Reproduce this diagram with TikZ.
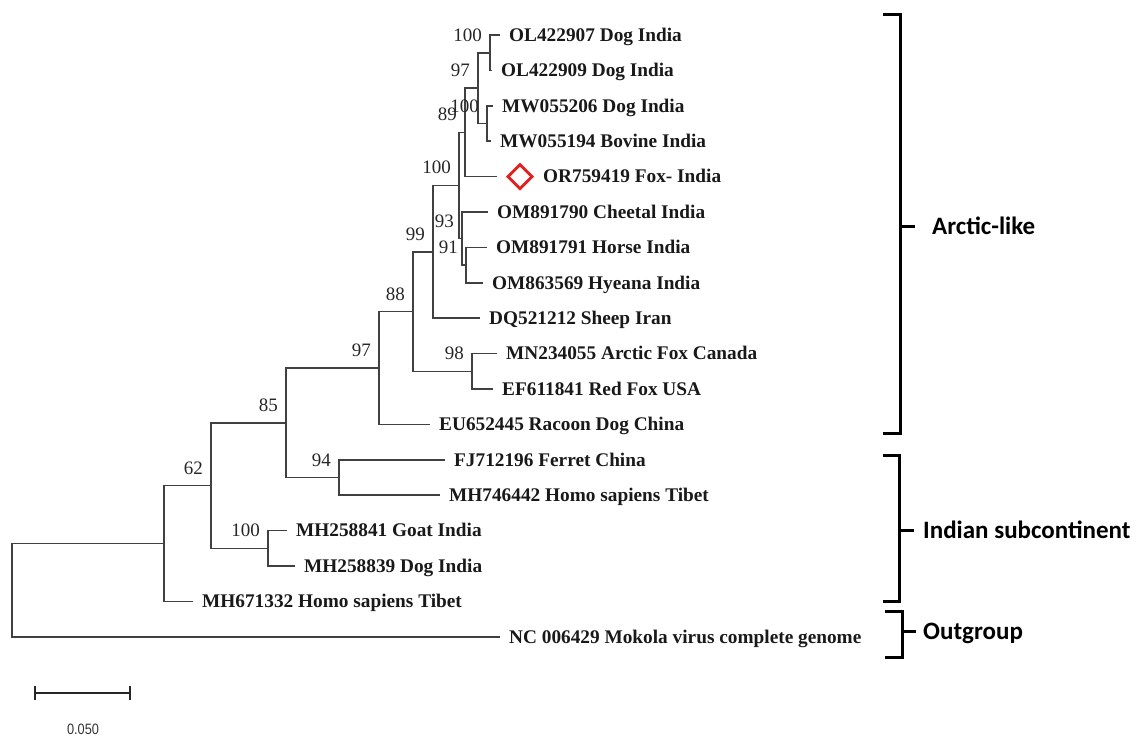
\documentclass[tikz,border=0pt]{standalone}
\usepackage{fontspec}
\setmainfont{Liberation Serif}
\newfontfamily\calib{Carlito}
\newfontfamily\arialf{Liberation Sans}
\usetikzlibrary{shapes.geometric}
\begin{document}
\begin{tikzpicture}[x=1pt,y=-1pt,
  br/.style={line width=1.6pt, draw=black!75, line cap=square},
  taxon/.style={anchor=base west, inner sep=0pt, font=\bfseries\fontsize{19.3}{19.3}\selectfont, text=black!90, xshift=9pt, yshift=-6.3pt},
  bs/.style={anchor=base east, inner sep=0pt, font=\fontsize{19}{19}\selectfont, text=black!85, xshift=-8pt, yshift=11.5pt},
  brk/.style={line width=3pt, draw=black, line join=miter},
  grp/.style={anchor=base west, inner sep=0pt, font=\calib\bfseries\fontsize{25}{25}\selectfont, yshift=-8pt}]
\useasboundingbox (0,0) rectangle (1138,740);
% internal nodes
\coordinate (nA) at (490,52.7);
\coordinate (nB) at (478,88.0);
\coordinate (nC) at (487,123.5);
\coordinate (nD) at (465,132.3);
\coordinate (nF) at (466,265.1);
\coordinate (nE) at (462,238.6);
\coordinate (nG) at (459,185.4);
\coordinate (nH) at (433,251.8);
\coordinate (nI) at (472,371.3);
\coordinate (nJ) at (413,311.6);
\coordinate (nK) at (379,368.0);
\coordinate (nL) at (339,477.5);
\coordinate (nM) at (286,422.7);
\coordinate (nN) at (268,548.3);
\coordinate (nO) at (211,485.5);
\coordinate (nP) at (164,543.5);
\coordinate (nR) at (12,590.1);
% leaf branch ends
\coordinate (l1) at (500,35.0);
\coordinate (l2) at (492,70.4);
\coordinate (l3) at (493,105.8);
\coordinate (l4) at (491,141.2);
\coordinate (l5) at (497,176.6);
\coordinate (l6) at (488,212.0);
\coordinate (l7) at (487,247.4);
\coordinate (l8) at (483,282.8);
\coordinate (l9) at (480,318.2);
\coordinate (l10) at (497,353.6);
\coordinate (l11) at (493,389.0);
\coordinate (l12) at (430,424.4);
\coordinate (l13) at (445,459.8);
\coordinate (l14) at (440,495.2);
\coordinate (l15) at (287,530.6);
\coordinate (l16) at (295,566.0);
\coordinate (l17) at (193,601.4);
\coordinate (l18) at (500,636.8);
% branches
\draw[br] (nA) |- (l1); \draw[br] (nA) |- (l2);
\draw[br] (nC) |- (l3); \draw[br] (nC) |- (l4);
\draw[br] (nB) |- (nA); \draw[br] (nB) |- (nC);
\draw[br] (nD) |- (nB); \draw[br] (nD) |- (l5);
\draw[br] (nF) |- (l7); \draw[br] (nF) |- (l8);
\draw[br] (nE) |- (l6); \draw[br] (nE) |- (nF);
\draw[br] (nG) |- (nD); \draw[br] (nG) |- (nE);
\draw[br] (nH) |- (nG); \draw[br] (nH) |- (l9);
\draw[br] (nI) |- (l10); \draw[br] (nI) |- (l11);
\draw[br] (nJ) |- (nH); \draw[br] (nJ) |- (nI);
\draw[br] (nK) |- (nJ); \draw[br] (nK) |- (l12);
\draw[br] (nL) |- (l13); \draw[br] (nL) |- (l14);
\draw[br] (nM) |- (nK); \draw[br] (nM) |- (nL);
\draw[br] (nN) |- (l15); \draw[br] (nN) |- (l16);
\draw[br] (nO) |- (nM); \draw[br] (nO) |- (nN);
\draw[br] (nP) |- (nO); \draw[br] (nP) |- (l17);
\draw[br] (nR) |- (nP); \draw[br] (nR) |- (l18);
% taxa
\node[taxon] (t1) at (l1) {OL422907 Dog India};
\node[taxon] (t2) at (l2) {OL422909 Dog India};
\node[taxon] (t3) at (l3) {MW055206 Dog India};
\node[taxon] (t4) at (l4) {MW055194 Bovine India};
\node[diamond, draw={rgb,255:red,226;green,30;blue,30}, line width=2.8pt, minimum size=25pt, inner sep=0pt] (fox) at (520,176.6) {};
\node[taxon, xshift=37pt] (t5) at (l5) {OR759419 Fox- India};
\node[taxon] (t6) at (l6) {OM891790 Cheetal India};
\node[taxon] (t7) at (l7) {OM891791 Horse India};
\node[taxon] (t8) at (l8) {OM863569 Hyeana India};
\node[taxon] (t9) at (l9) {DQ521212 Sheep Iran};
\node[taxon] (t10) at (l10) {MN234055 Arctic Fox Canada};
\node[taxon] (t11) at (l11) {EF611841 Red Fox USA};
\node[taxon] (t12) at (l12) {EU652445 Racoon Dog China};
\node[taxon] (t13) at (l13) {FJ712196 Ferret China};
\node[taxon] (t14) at (l14) {MH746442 Homo sapiens Tibet};
\node[taxon] (t15) at (l15) {MH258841 Goat India};
\node[taxon] (t16) at (l16) {MH258839 Dog India};
\node[taxon] (t17) at (l17) {MH671332 Homo sapiens Tibet};
\node[taxon] (t18) at (l18) {NC 006429 Mokola virus complete genome};
% bootstrap values
\node[bs] (bA) at (nA) {100};
\node[bs] (bB) at (nB) {97};
\node[bs] (bD) at (nD) {89};
\node[bs] (bC) at (nC) {100};
\node[bs] (bG) at (nG) {100};
\node[bs] (bE) at (nE) {93};
\node[bs] (bF) at (nF) {91};
\node[bs] (bH) at (nH) {99};
\node[bs] (bJ) at (nJ) {88};
\node[bs] (bI) at (nI) {98};
\node[bs] (bK) at (nK) {97};
\node[bs] (bM) at (nM) {85};
\node[bs] (bL) at (nL) {94};
\node[bs] (bO) at (nO) {62};
\node[bs] (bN) at (nN) {100};
% scale bar
\coordinate (s1) at (35,693);
\coordinate (s2) at (130,693);
\draw[line width=2.2pt, black!85] (s1) -- (s2);
\draw[line width=2.2pt, black!85] ([yshift=7pt]s1) -- ([yshift=-7pt]s1);
\draw[line width=2.2pt, black!85] ([yshift=7pt]s2) -- ([yshift=-7pt]s2);
\node[font=\arialf\fontsize{15}{15}\selectfont, text=black!80, xscale=0.85, inner sep=0pt] (sl) at (83,729) {0.050};
% group brackets
\draw[brk] (883,14) -- (900,14) -- (900,433) -- (883,433);
\coordinate (ta) at (900,226);
\draw[brk] (ta) -- ++(15,0);
\node[grp] (gA) at (932,226) {Arctic-like};
\draw[brk] (883,455) -- (899,455) -- (899,601) -- (883,601);
\coordinate (ti) at (899,530);
\draw[brk] (ti) -- ++(15,0);
\node[grp] (gI) at (923,530) {Indian subcontinent};
\draw[brk] (885,611) -- (902,611) -- (902,657) -- (885,657);
\coordinate (to) at (902,631);
\draw[brk] (to) -- ++(14,0);
\node[grp] (gO) at (923,631) {Outgroup};
\end{tikzpicture}
\end{document}
